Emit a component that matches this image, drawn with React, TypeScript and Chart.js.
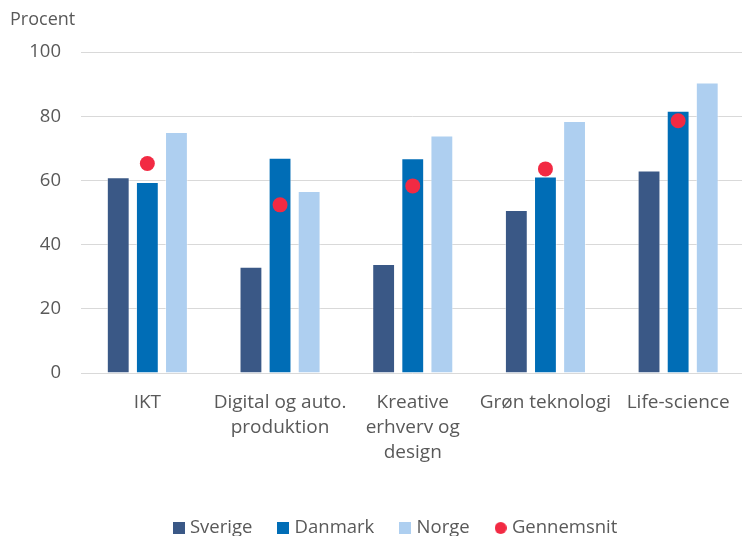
import React, { useEffect, useRef } from "react";
import { Chart, registerables } from "chart.js";
Chart.register(...registerables);

const categories: string[][] = [
  ["IKT"],
  ["Digital og auto.", "produktion"],
  ["Kreative", "erhverv og", "design"],
  ["Grøn teknologi"],
  ["Life-science"],
];
const sverige = [61, 33.1, 34, 50.8, 63.1];
const danmark = [59.5, 67.1, 66.9, 61.2, 81.7];
const norge = [75.1, 56.7, 74, 78.5, 90.5];
const gennemsnit = [65.3, 52.4, 58.3, 63.6, 78.6];
const yTicks = [0, 20, 40, 60, 80, 100];
const seriesNames = ["Sverige", "Danmark", "Norge", "Gennemsnit"];
const seriesColors = ["#3A5886", "#006DB6", "#AECFF0", "#F22A43"];

const FONT = "'Open Sans', sans-serif";
const TEXT = "#595959";
const CANVAS_W = 752;
const CANVAS_H = 536;
const PLOT_BOTTOM = 373;
const LEGEND_CX = 397;
const LEGEND_TEXT_CY = 528;
const LEGEND_PAD = 29;
const LEGEND_FONT = 18.5;

function makeMarker(color: string, round: boolean) {
  const c = document.createElement("canvas");
  c.width = 12;
  c.height = 12;
  const ctx = c.getContext("2d")!;
  ctx.fillStyle = color;
  if (round) {
    ctx.beginPath();
    ctx.arc(6, 6, 6, 0, Math.PI * 2);
    ctx.fill();
  } else {
    ctx.fillRect(0, 0, 12, 12);
  }
  return c;
}

const shiftLegend = {
  id: "shiftLegend",
  afterLayout(chart: any) {
    const lg = chart.legend;
    if (!lg) return;
    const dx = LEGEND_CX - (lg.left + lg.right) / 2;
    const dy = LEGEND_TEXT_CY - LEGEND_PAD - LEGEND_FONT / 2 - lg.top;
    lg.left += dx;
    lg.right += dx;
    lg.top += dy;
    lg.bottom += dy;
  },
};

export default function App() {
  const ref = useRef<HTMLCanvasElement>(null);
  useEffect(() => {
    if (!ref.current) return;
    const markers = seriesColors.map((c, i) => makeMarker(c, i === 3));
    const barBorder = "rgba(255,255,255,0.45)";
    const chart = new Chart(ref.current, {
      type: "bar",
      data: {
        labels: categories,
        datasets: [
          { label: seriesNames[0], data: sverige, backgroundColor: seriesColors[0], borderColor: barBorder, borderWidth: 1, order: 1 },
          { label: seriesNames[1], data: danmark, backgroundColor: seriesColors[1], borderColor: barBorder, borderWidth: 1, order: 1 },
          { label: seriesNames[2], data: norge, backgroundColor: seriesColors[2], borderColor: barBorder, borderWidth: 1, order: 1 },
          {
            type: "line",
            label: seriesNames[3],
            data: gennemsnit,
            showLine: false,
            pointRadius: 7.5,
            pointHoverRadius: 7.5,
            pointBackgroundColor: seriesColors[3],
            pointBorderWidth: 0,
            backgroundColor: seriesColors[3],
            borderColor: seriesColors[3],
            order: 0,
          } as any,
        ],
      },
      options: {
        responsive: false,
        animation: false,
        layout: { padding: { left: 10, right: 3, top: 0, bottom: 0 } },
        datasets: {
          bar: { categoryPercentage: 0.658, barPercentage: 0.785 },
        },
        scales: {
          x: {
            grid: { display: false, drawTicks: false },
            border: { display: false },
            ticks: {
              color: TEXT,
              font: { family: FONT, size: 19, lineHeight: 25 / 19 },
              padding: 17,
              maxRotation: 0,
              autoSkip: false,
            },
            afterFit: (s: any) => {
              const lh = s.chart.legend ? s.chart.legend.height : 0;
              s.height = s.chart.height - lh - PLOT_BOTTOM;
            },
          },
          y: {
            min: yTicks[0],
            max: yTicks[yTicks.length - 1],
            ticks: {
              stepSize: yTicks[1] - yTicks[0],
              color: TEXT,
              font: { family: FONT, size: 18.5 },
              padding: 20,
            },
            grid: { color: "#D9D9D9", lineWidth: 1, drawTicks: false },
            border: { display: false },
            afterFit: (s: any) => {
              s.width = 71;
            },
          },
        },
        plugins: {
          tooltip: { enabled: false },
          title: {
            display: true,
            text: "Procent",
            align: "start",
            color: TEXT,
            font: { family: FONT, size: 18, weight: "normal", lineHeight: 1.2 },
            padding: { top: 9.5, bottom: 21 },
          },
          legend: {
            position: "bottom",
            labels: {
              usePointStyle: true,
              pointStyleWidth: 4,
              boxWidth: 4,
              boxHeight: 12,
              padding: LEGEND_PAD,
              color: TEXT,
              font: { family: FONT, size: LEGEND_FONT },
              generateLabels: (ch: any) => {
                const items = (Chart as any).defaults.plugins.legend.labels.generateLabels(ch);
                items.sort((a: any, b: any) => a.datasetIndex - b.datasetIndex);
                items.forEach((it: any) => {
                  it.pointStyle = markers[it.datasetIndex];
                  it.fontColor = TEXT;
                });
                return items;
              },
            },
          },
        },
      },
      plugins: [shiftLegend],
    });
    return () => chart.destroy();
  }, []);
  return (
    <div style={{ position: "fixed", left: 0, top: 0, width: 742, height: 536, overflow: "hidden", background: "#fff" }}>
      <canvas ref={ref} width={CANVAS_W} height={CANVAS_H} style={{ display: "block", width: CANVAS_W, height: CANVAS_H }} />
    </div>
  );
}
